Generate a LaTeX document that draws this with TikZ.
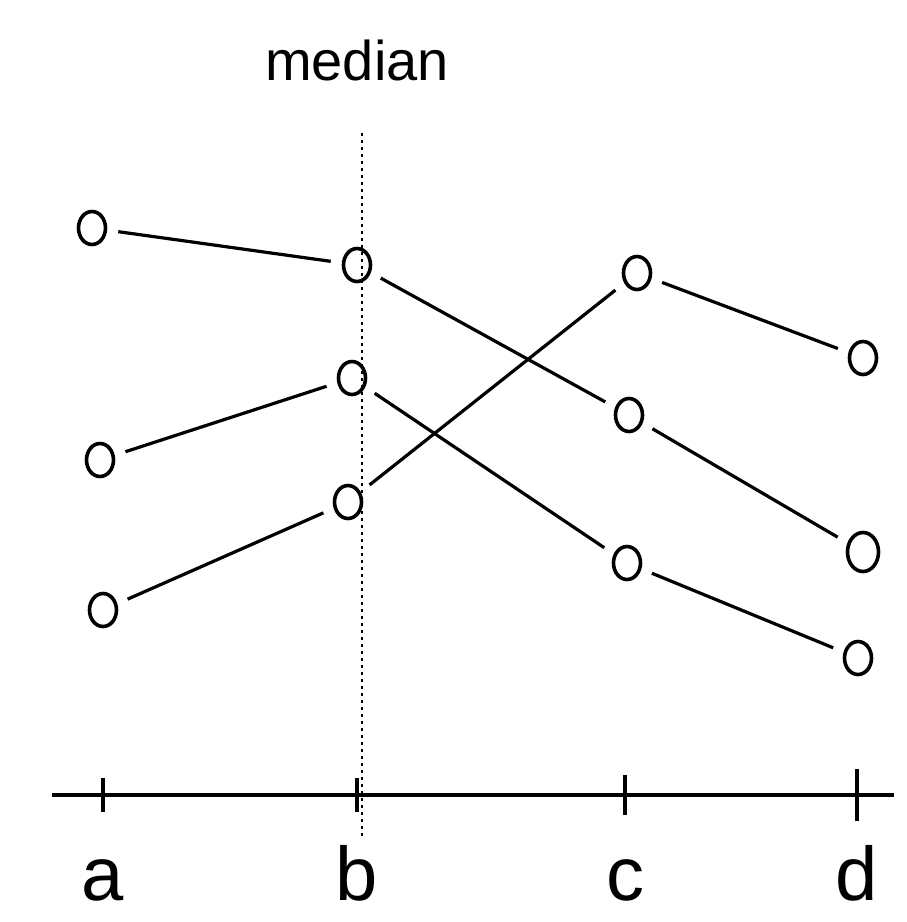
\documentclass[tikz,border=0pt]{standalone}
\usepackage{fontspec}
\setmainfont{Liberation Sans}
\usetikzlibrary{shapes.geometric}

\begin{document}
\begin{tikzpicture}[x=1pt, y=-1pt, line width=3.2pt,
	obs/.style={draw, ellipse, line width=3.6pt, minimum width=27pt, minimum height=33pt, inner sep=0pt, outer sep=13pt},
	link/.style={line width=3.2pt},
	lab/.style={font=\fontsize{76}{76}\selectfont, inner sep=0pt, anchor=base}]
	\useasboundingbox (0, 0) rectangle (907, 922);
	% Median line and its label:
	\node[font=\fontsize{56}{56}\selectfont, inner sep=0pt, anchor=base] (median) at (357, 80) {median};
	\coordinate (mtop) at (362, 133);
	\coordinate (mbot) at (362, 838);
	\draw[line width=2.8pt, dash pattern=on 3pt off 4pt] (mtop) -- (mbot);
	% Axis and ticks:
	\coordinate (axl) at (52, 795);
	\coordinate (axr) at (894, 795);
	\draw (axl) -- (axr);
	\coordinate (ta) at (103, 795);
	\coordinate (tb) at (357, 795);
	\coordinate (tc) at (625, 795);
	\coordinate (td) at (857, 795);
	\draw (ta) +(0, -17) -- +(0, 17);
	\draw (tb) +(0, -17) -- +(0, 17);
	\draw (tc) +(0, -20) -- +(0, 20);
	\draw (td) +(0, -26) -- +(0, 26);
	\node[lab] (la) at (103, 900) {a};
	\node[lab] (lb) at (357, 900) {b};
	\node[lab] (lc) at (625, 900) {c};
	\node[lab] (ld) at (857, 900) {d};
	% Points:
	\node[obs] (a1) at (92, 228) {};
	\node[obs] (a2) at (100, 460) {};
	\node[obs] (a3) at (103, 610) {};
	\node[obs] (b1) at (357, 265) {};
	\node[obs] (b2) at (352, 378) {};
	\node[obs] (b3) at (348, 502) {};
	\node[obs] (c1) at (637, 273) {};
	\node[obs] (c2) at (629, 415) {};
	\node[obs] (c3) at (627, 563) {};
	\node[obs] (d1) at (863, 358) {};
	\node[obs, minimum width=31pt, minimum height=39pt] (d2) at (863, 552) {};
	\node[obs] (d3) at (858, 658) {};
	% Links:
	\draw[link] (a1) -- (b1);
	\draw[link] (a2) -- (b2);
	\draw[link] (a3) -- (b3);
	\draw[link] (b1) -- (c2);
	\draw[link] (b2) -- (c3);
	\draw[link] (b3) -- (c1);
	\draw[link] (c1) -- (d1);
	\draw[link] (c2) -- (d2);
	\draw[link] (c3) -- (d3);
\end{tikzpicture}
\end{document}
